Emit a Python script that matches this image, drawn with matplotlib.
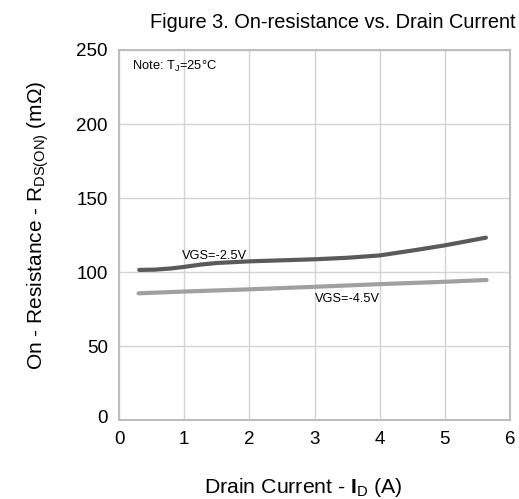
#!/usr/bin/env python3

import matplotlib
matplotlib.use("Agg")
import matplotlib.pyplot as plt
import matplotlib.transforms as mtransforms

plt.rcParams['font.family'] = ['Liberation Sans', 'DejaVu Sans']
plt.rcParams['mathtext.fontset'] = 'custom'
plt.rcParams['mathtext.rm'] = 'Liberation Sans'
plt.rcParams['mathtext.bf'] = 'Liberation Sans:bold'
plt.rcParams['mathtext.it'] = 'Liberation Sans'

# Drain current (A) vs on-resistance (mOhm)
id_25 = [0.31, 0.55, 0.8, 0.99, 1.25, 1.5, 2.0, 2.5, 3.0, 3.5, 4.0, 4.5, 5.0, 5.63]
rds_25 = [101.4, 101.6, 102.4, 103.4, 105.0, 106.1, 107.2, 107.9, 108.6, 109.6, 111.2, 114.5, 118.0, 123.2]
id_45 = [0.3, 1.0, 2.0, 3.0, 4.0, 5.0, 5.64]
rds_45 = [85.6, 86.8, 88.3, 90.0, 91.8, 93.4, 94.6]

x_ticks = [0, 1, 2, 3, 4, 5, 6]
y_ticks = [0, 50, 100, 150, 200, 250]


def main():
    fig = plt.figure(figsize=(5.19, 4.99), dpi=100)
    ax = fig.add_axes([0.2293, 0.1583, 0.7534, 0.7415])

    ax.plot(id_25, rds_25, color='#5a5a5a', lw=3, solid_capstyle='round', solid_joinstyle='round')
    ax.plot(id_45, rds_45, color='#a0a0a0', lw=3, solid_capstyle='round')

    ax.set_xlim(0, 6)
    ax.set_ylim(0, 250)
    ax.set_xticks(x_ticks)
    ax.set_yticks(y_ticks)
    ax.grid(True, color='#d4d4d4', lw=1)
    ax.set_axisbelow(True)
    for s in ax.spines.values():
        s.set_color('#bdbdbd')
        s.set_linewidth(1.5)
    ax.tick_params(length=0, labelsize=13.5, colors='black')
    ax.tick_params(axis='x', pad=8)
    ax.tick_params(axis='y', pad=8)

    # the "0" on the y axis sits a bit above the corner
    fig.canvas.draw()
    lab0 = ax.get_yticklabels()[0]
    lab0.set_transform(lab0.get_transform() + mtransforms.ScaledTranslation(0, 2.5 / 72, fig.dpi_scale_trans))

    ax.text(0.96, 109, 'VGS=-2.5V', fontsize=9.2)
    ax.text(3.0, 79.5, 'VGS=-4.5V', fontsize=9.2)
    ax.text(0.2, 239, r'Note: T$_\mathrm{J}$=25°C', fontsize=9.3, va='center')

    ax.set_xlabel(r'Drain Current - $\mathbf{I}_\mathrm{D}$ (A)', fontsize=15.3)
    ax.set_ylabel(r'On - Resistance - R$_\mathrm{DS(ON)}$ (m$\Omega$)', fontsize=15)
    ax.xaxis.set_label_coords(0.471, -0.15)
    ax.yaxis.set_label_coords(-0.175, 0.527)
    fig.text(0.993, 0.955, 'Figure 3. On-resistance vs. Drain Current', fontsize=14.4, ha='right', va='center')

    fig.savefig('out.png', dpi=100)


if __name__ == "__main__":
    main()
